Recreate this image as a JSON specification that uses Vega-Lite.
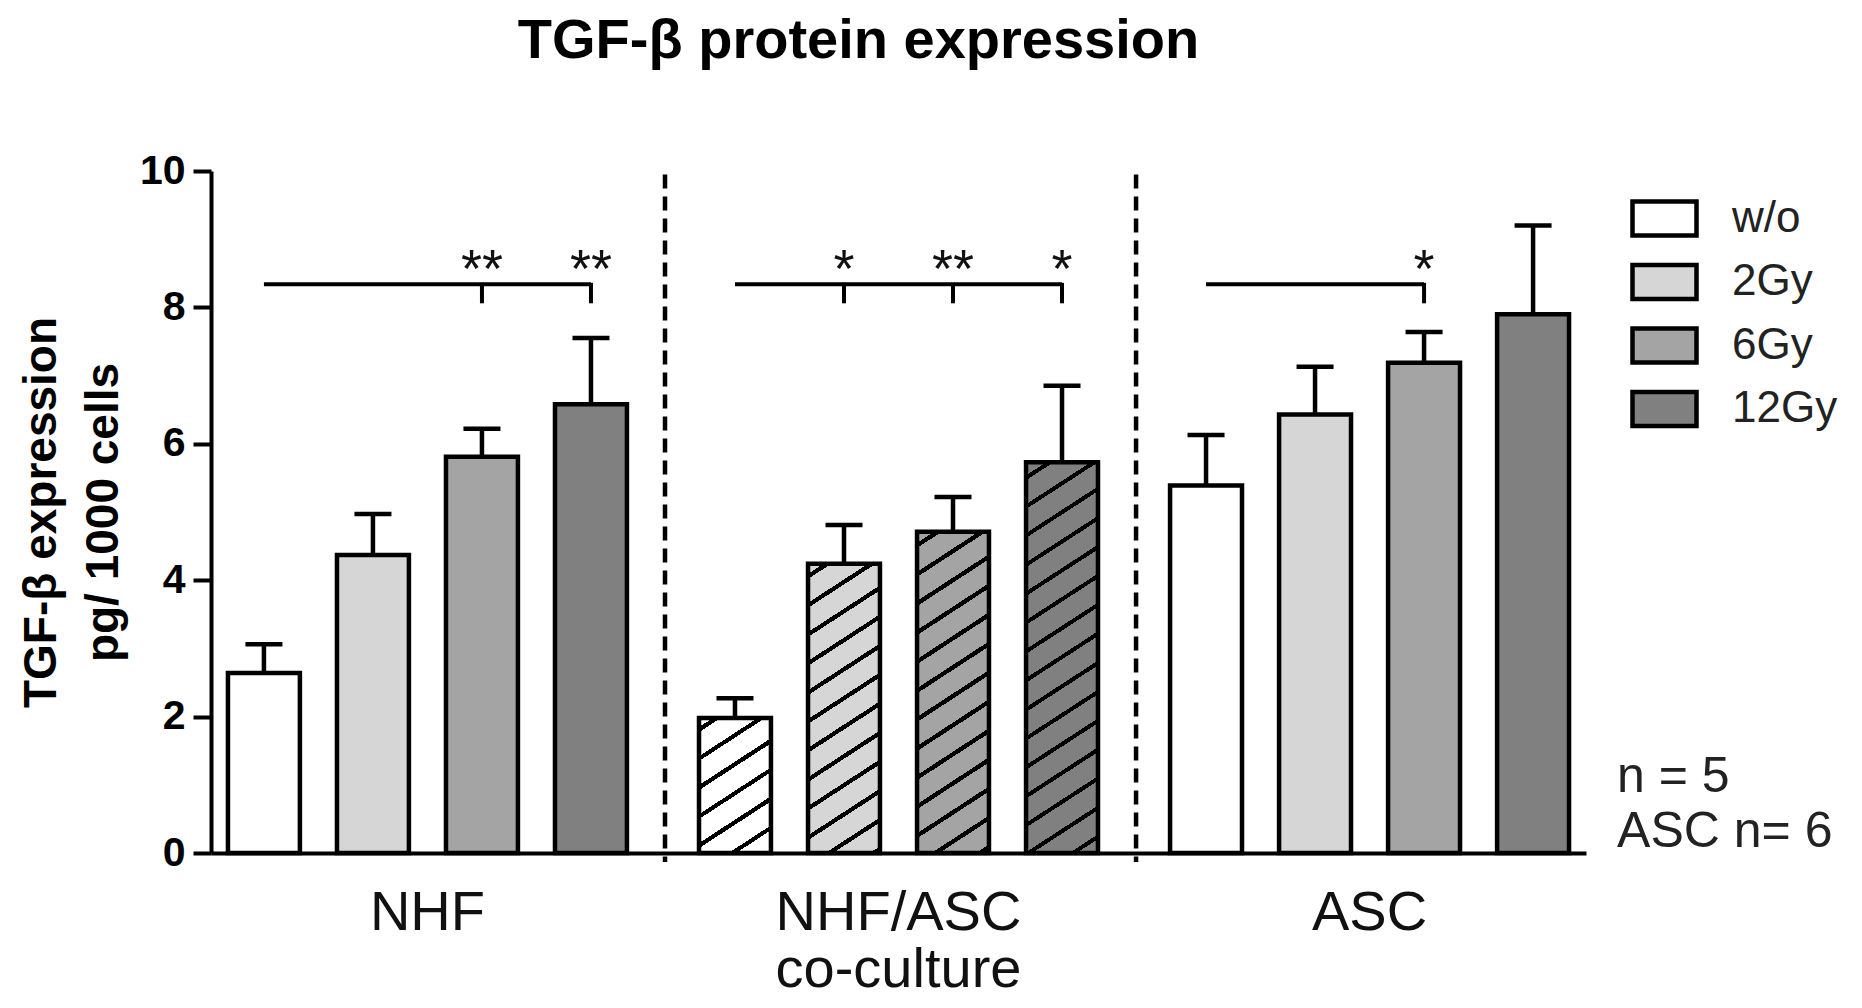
{
  "$schema": "https://vega.github.io/schema/vega-lite/v6.json",
  "autosize": {"type": "none"},
  "padding": {"left": 211, "top": 171, "right": 276, "bottom": 155},
  "width": 1375,
  "height": 682,
  "background": "white",
  "title": {"text": "TGF-β protein expression", "fontSize": 56, "fontWeight": "bold", "anchor": "middle", "frame": "group", "dx": -40, "offset": 80, "color": "black"},
  "datasets": {
    "bars": [
      {"group": "NHF", "dose": "w/o", "mean": 2.64, "upper": 3.06},
      {"group": "NHF", "dose": "2Gy", "mean": 4.37, "upper": 4.97},
      {"group": "NHF", "dose": "6Gy", "mean": 5.81, "upper": 6.22},
      {"group": "NHF", "dose": "12Gy", "mean": 6.58, "upper": 7.55},
      {"group": "NHF/ASC co-culture", "dose": "w/o", "mean": 1.98, "upper": 2.27},
      {"group": "NHF/ASC co-culture", "dose": "2Gy", "mean": 4.24, "upper": 4.81},
      {"group": "NHF/ASC co-culture", "dose": "6Gy", "mean": 4.71, "upper": 5.22},
      {"group": "NHF/ASC co-culture", "dose": "12Gy", "mean": 5.73, "upper": 6.85},
      {"group": "ASC", "dose": "w/o", "mean": 5.39, "upper": 6.13},
      {"group": "ASC", "dose": "2Gy", "mean": 6.43, "upper": 7.13},
      {"group": "ASC", "dose": "6Gy", "mean": 7.19, "upper": 7.64},
      {"group": "ASC", "dose": "12Gy", "mean": 7.9, "upper": 9.2}
    ],
    "brackets": [
      {"group": "NHF", "dose": "w/o"},
      {"group": "NHF", "dose": "12Gy"},
      {"group": "NHF/ASC co-culture", "dose": "w/o"},
      {"group": "NHF/ASC co-culture", "dose": "12Gy"},
      {"group": "ASC", "dose": "w/o"},
      {"group": "ASC", "dose": "6Gy"}
    ],
    "stars": [
      {"group": "NHF", "dose": "6Gy", "stars": "**"},
      {"group": "NHF", "dose": "12Gy", "stars": "**"},
      {"group": "NHF/ASC co-culture", "dose": "2Gy", "stars": "*"},
      {"group": "NHF/ASC co-culture", "dose": "6Gy", "stars": "**"},
      {"group": "NHF/ASC co-culture", "dose": "12Gy", "stars": "*"},
      {"group": "ASC", "dose": "6Gy", "stars": "*"}
    ],
    "dividers": [
      {"group": "NHF/ASC co-culture"},
      {"group": "ASC"}
    ],
    "notes": [
      {"group": "ASC", "note": ["n = 5", "ASC n= 6"]}
    ]
  },
  "data": {"name": "bars"},
  "layer": [
    {
      "data": {"name": "dividers"},
      "mark": {"type": "rule", "strokeDash": [14, 8], "strokeWidth": 4.5, "color": "black", "xOffset": -34, "y2Offset": 9},
      "encoding": {
        "x": {"field": "group", "type": "nominal", "sort": ["NHF", "NHF/ASC co-culture", "ASC"], "bandPosition": 0,
              "scale": {"paddingInner": 0.153, "paddingOuter": 0.036},
              "axis": {"title": null, "ticks": false, "tickSize": 0, "domainWidth": 4, "domainColor": "black", "labelAngle": 0,
                       "labelFontSize": 56, "labelFontWeight": "normal", "labelColor": "#111", "labelPadding": 32, "labelLineHeight": 57,
                       "labelLimit": 0, "labelExpr": "split(datum.label, ' ')"}},
        "y": {"datum": 9.95, "type": "quantitative"},
        "y2": {"datum": 0}
      }
    },
    {
      "mark": {"type": "bar", "stroke": "black", "strokeWidth": 4.5},
      "encoding": {
        "x": {"field": "group", "type": "nominal", "sort": ["NHF", "NHF/ASC co-culture", "ASC"]},
        "xOffset": {"field": "dose", "type": "nominal", "sort": ["w/o", "2Gy", "6Gy", "12Gy"], "scale": {"paddingInner": 0.34, "paddingOuter": 0}},
        "y": {"field": "mean", "type": "quantitative", "scale": {"domain": [0, 10], "nice": false},
              "axis": {"values": [0, 2, 4, 6, 8, 10], "format": "d", "grid": false, "title": ["TGF-β expression", "pg/ 1000 cells"],
                       "titleFontSize": 46, "titleFontWeight": "bold", "titleColor": "black", "titleLineHeight": 62, "titlePadding": 12,
                       "labelFontSize": 41, "labelFontWeight": "bold", "labelColor": "black", "labelPadding": 8,
                       "tickSize": 18, "tickWidth": 4, "tickColor": "black", "domainWidth": 4, "domainColor": "black"}},
        "color": {"field": "dose", "type": "nominal", "sort": ["w/o", "2Gy", "6Gy", "12Gy"],
                  "scale": {"domain": ["w/o", "2Gy", "6Gy", "12Gy"], "range": ["#ffffff", "#d6d6d6", "#a4a4a4", "#808080"]},
                  "legend": {"orient": "none", "legendX": 1419, "legendY": 13, "title": null, "padding": 0,
                             "symbolType": "M-1,-0.53L1,-0.53L1,0.53L-1,0.53Z", "symbolSize": 4096,
                             "symbolStrokeColor": "black", "symbolStrokeWidth": 4.5, "symbolOpacity": 1,
                             "labelFontSize": 44, "labelOffset": 33, "labelColor": "#222", "rowPadding": 2.5}}
      }
    },
    {
      "transform": [{"filter": "datum.group === 'NHF/ASC co-culture' && datum.dose === 'w/o'"}],
      "mark": {"type": "bar", "fill": {"gradient": "linear", "x1": 0, "y1": 0, "x2": 0.417, "y2": 1.202, "stops": [
        {"offset": 0, "color": "rgba(0,0,0,0)"},
        {"offset": 0.05, "color": "rgba(0,0,0,0)"}, {"offset": 0.05, "color": "#000"}, {"offset": 0.078, "color": "#000"}, {"offset": 0.078, "color": "rgba(0,0,0,0)"},
        {"offset": 0.21, "color": "rgba(0,0,0,0)"}, {"offset": 0.21, "color": "#000"}, {"offset": 0.237, "color": "#000"}, {"offset": 0.237, "color": "rgba(0,0,0,0)"},
        {"offset": 0.369, "color": "rgba(0,0,0,0)"}, {"offset": 0.369, "color": "#000"}, {"offset": 0.397, "color": "#000"}, {"offset": 0.397, "color": "rgba(0,0,0,0)"},
        {"offset": 0.529, "color": "rgba(0,0,0,0)"}, {"offset": 0.529, "color": "#000"}, {"offset": 0.556, "color": "#000"}, {"offset": 0.556, "color": "rgba(0,0,0,0)"},
        {"offset": 0.688, "color": "rgba(0,0,0,0)"}, {"offset": 0.688, "color": "#000"}, {"offset": 0.716, "color": "#000"}, {"offset": 0.716, "color": "rgba(0,0,0,0)"},
        {"offset": 0.848, "color": "rgba(0,0,0,0)"}, {"offset": 0.848, "color": "#000"}, {"offset": 0.875, "color": "#000"}, {"offset": 0.875, "color": "rgba(0,0,0,0)"},
        {"offset": 1, "color": "rgba(0,0,0,0)"}
      ]}},
      "encoding": {
        "x": {"field": "group", "type": "nominal", "sort": ["NHF", "NHF/ASC co-culture", "ASC"]},
        "xOffset": {"field": "dose", "type": "nominal", "sort": ["w/o", "2Gy", "6Gy", "12Gy"]},
        "y": {"field": "mean", "type": "quantitative"}
      }
    },
    {
      "transform": [{"filter": "datum.group === 'NHF/ASC co-culture' && datum.dose === '2Gy'"}],
      "mark": {"type": "bar", "fill": {"gradient": "linear", "x1": 0, "y1": 0, "x2": 0.183, "y2": 1.132, "stops": [
        {"offset": 0, "color": "rgba(0,0,0,0)"},
        {"offset": 0.03, "color": "rgba(0,0,0,0)"}, {"offset": 0.03, "color": "#000"}, {"offset": 0.045, "color": "#000"}, {"offset": 0.045, "color": "rgba(0,0,0,0)"},
        {"offset": 0.116, "color": "rgba(0,0,0,0)"}, {"offset": 0.116, "color": "#000"}, {"offset": 0.131, "color": "#000"}, {"offset": 0.131, "color": "rgba(0,0,0,0)"},
        {"offset": 0.203, "color": "rgba(0,0,0,0)"}, {"offset": 0.203, "color": "#000"}, {"offset": 0.218, "color": "#000"}, {"offset": 0.218, "color": "rgba(0,0,0,0)"},
        {"offset": 0.289, "color": "rgba(0,0,0,0)"}, {"offset": 0.289, "color": "#000"}, {"offset": 0.304, "color": "#000"}, {"offset": 0.304, "color": "rgba(0,0,0,0)"},
        {"offset": 0.376, "color": "rgba(0,0,0,0)"}, {"offset": 0.376, "color": "#000"}, {"offset": 0.391, "color": "#000"}, {"offset": 0.391, "color": "rgba(0,0,0,0)"},
        {"offset": 0.462, "color": "rgba(0,0,0,0)"}, {"offset": 0.462, "color": "#000"}, {"offset": 0.477, "color": "#000"}, {"offset": 0.477, "color": "rgba(0,0,0,0)"},
        {"offset": 0.548, "color": "rgba(0,0,0,0)"}, {"offset": 0.548, "color": "#000"}, {"offset": 0.563, "color": "#000"}, {"offset": 0.563, "color": "rgba(0,0,0,0)"},
        {"offset": 0.635, "color": "rgba(0,0,0,0)"}, {"offset": 0.635, "color": "#000"}, {"offset": 0.65, "color": "#000"}, {"offset": 0.65, "color": "rgba(0,0,0,0)"},
        {"offset": 0.721, "color": "rgba(0,0,0,0)"}, {"offset": 0.721, "color": "#000"}, {"offset": 0.736, "color": "#000"}, {"offset": 0.736, "color": "rgba(0,0,0,0)"},
        {"offset": 0.808, "color": "rgba(0,0,0,0)"}, {"offset": 0.808, "color": "#000"}, {"offset": 0.823, "color": "#000"}, {"offset": 0.823, "color": "rgba(0,0,0,0)"},
        {"offset": 0.894, "color": "rgba(0,0,0,0)"}, {"offset": 0.894, "color": "#000"}, {"offset": 0.909, "color": "#000"}, {"offset": 0.909, "color": "rgba(0,0,0,0)"},
        {"offset": 0.98, "color": "rgba(0,0,0,0)"}, {"offset": 0.98, "color": "#000"}, {"offset": 0.995, "color": "#000"}, {"offset": 0.995, "color": "rgba(0,0,0,0)"},
        {"offset": 1, "color": "rgba(0,0,0,0)"}
      ]}},
      "encoding": {
        "x": {"field": "group", "type": "nominal", "sort": ["NHF", "NHF/ASC co-culture", "ASC"]},
        "xOffset": {"field": "dose", "type": "nominal", "sort": ["w/o", "2Gy", "6Gy", "12Gy"]},
        "y": {"field": "mean", "type": "quantitative"}
      }
    },
    {
      "transform": [{"filter": "datum.group === 'NHF/ASC co-culture' && datum.dose === '6Gy'"}],
      "mark": {"type": "bar", "fill": {"gradient": "linear", "x1": 0, "y1": 0, "x2": 0.164, "y2": 1.122, "stops": [
        {"offset": 0, "color": "rgba(0,0,0,0)"},
        {"offset": 0.03, "color": "rgba(0,0,0,0)"}, {"offset": 0.03, "color": "#000"}, {"offset": 0.044, "color": "#000"}, {"offset": 0.044, "color": "rgba(0,0,0,0)"},
        {"offset": 0.109, "color": "rgba(0,0,0,0)"}, {"offset": 0.109, "color": "#000"}, {"offset": 0.123, "color": "#000"}, {"offset": 0.123, "color": "rgba(0,0,0,0)"},
        {"offset": 0.188, "color": "rgba(0,0,0,0)"}, {"offset": 0.188, "color": "#000"}, {"offset": 0.202, "color": "#000"}, {"offset": 0.202, "color": "rgba(0,0,0,0)"},
        {"offset": 0.267, "color": "rgba(0,0,0,0)"}, {"offset": 0.267, "color": "#000"}, {"offset": 0.281, "color": "#000"}, {"offset": 0.281, "color": "rgba(0,0,0,0)"},
        {"offset": 0.346, "color": "rgba(0,0,0,0)"}, {"offset": 0.346, "color": "#000"}, {"offset": 0.36, "color": "#000"}, {"offset": 0.36, "color": "rgba(0,0,0,0)"},
        {"offset": 0.425, "color": "rgba(0,0,0,0)"}, {"offset": 0.425, "color": "#000"}, {"offset": 0.439, "color": "#000"}, {"offset": 0.439, "color": "rgba(0,0,0,0)"},
        {"offset": 0.503, "color": "rgba(0,0,0,0)"}, {"offset": 0.503, "color": "#000"}, {"offset": 0.517, "color": "#000"}, {"offset": 0.517, "color": "rgba(0,0,0,0)"},
        {"offset": 0.582, "color": "rgba(0,0,0,0)"}, {"offset": 0.582, "color": "#000"}, {"offset": 0.596, "color": "#000"}, {"offset": 0.596, "color": "rgba(0,0,0,0)"},
        {"offset": 0.661, "color": "rgba(0,0,0,0)"}, {"offset": 0.661, "color": "#000"}, {"offset": 0.675, "color": "#000"}, {"offset": 0.675, "color": "rgba(0,0,0,0)"},
        {"offset": 0.74, "color": "rgba(0,0,0,0)"}, {"offset": 0.74, "color": "#000"}, {"offset": 0.754, "color": "#000"}, {"offset": 0.754, "color": "rgba(0,0,0,0)"},
        {"offset": 0.819, "color": "rgba(0,0,0,0)"}, {"offset": 0.819, "color": "#000"}, {"offset": 0.833, "color": "#000"}, {"offset": 0.833, "color": "rgba(0,0,0,0)"},
        {"offset": 0.898, "color": "rgba(0,0,0,0)"}, {"offset": 0.898, "color": "#000"}, {"offset": 0.912, "color": "#000"}, {"offset": 0.912, "color": "rgba(0,0,0,0)"},
        {"offset": 0.977, "color": "rgba(0,0,0,0)"}, {"offset": 0.977, "color": "#000"}, {"offset": 0.991, "color": "#000"}, {"offset": 0.991, "color": "rgba(0,0,0,0)"},
        {"offset": 1, "color": "rgba(0,0,0,0)"}
      ]}},
      "encoding": {
        "x": {"field": "group", "type": "nominal", "sort": ["NHF", "NHF/ASC co-culture", "ASC"]},
        "xOffset": {"field": "dose", "type": "nominal", "sort": ["w/o", "2Gy", "6Gy", "12Gy"]},
        "y": {"field": "mean", "type": "quantitative"}
      }
    },
    {
      "transform": [{"filter": "datum.group === 'NHF/ASC co-culture' && datum.dose === '12Gy'"}],
      "mark": {"type": "bar", "fill": {"gradient": "linear", "x1": 0, "y1": 0, "x2": 0.132, "y2": 1.104, "stops": [
        {"offset": 0, "color": "rgba(0,0,0,0)"},
        {"offset": 0.03, "color": "rgba(0,0,0,0)"}, {"offset": 0.03, "color": "#000"}, {"offset": 0.041, "color": "#000"}, {"offset": 0.041, "color": "rgba(0,0,0,0)"},
        {"offset": 0.096, "color": "rgba(0,0,0,0)"}, {"offset": 0.096, "color": "#000"}, {"offset": 0.107, "color": "#000"}, {"offset": 0.107, "color": "rgba(0,0,0,0)"},
        {"offset": 0.162, "color": "rgba(0,0,0,0)"}, {"offset": 0.162, "color": "#000"}, {"offset": 0.173, "color": "#000"}, {"offset": 0.173, "color": "rgba(0,0,0,0)"},
        {"offset": 0.229, "color": "rgba(0,0,0,0)"}, {"offset": 0.229, "color": "#000"}, {"offset": 0.24, "color": "#000"}, {"offset": 0.24, "color": "rgba(0,0,0,0)"},
        {"offset": 0.295, "color": "rgba(0,0,0,0)"}, {"offset": 0.295, "color": "#000"}, {"offset": 0.306, "color": "#000"}, {"offset": 0.306, "color": "rgba(0,0,0,0)"},
        {"offset": 0.361, "color": "rgba(0,0,0,0)"}, {"offset": 0.361, "color": "#000"}, {"offset": 0.372, "color": "#000"}, {"offset": 0.372, "color": "rgba(0,0,0,0)"},
        {"offset": 0.427, "color": "rgba(0,0,0,0)"}, {"offset": 0.427, "color": "#000"}, {"offset": 0.438, "color": "#000"}, {"offset": 0.438, "color": "rgba(0,0,0,0)"},
        {"offset": 0.493, "color": "rgba(0,0,0,0)"}, {"offset": 0.493, "color": "#000"}, {"offset": 0.504, "color": "#000"}, {"offset": 0.504, "color": "rgba(0,0,0,0)"},
        {"offset": 0.56, "color": "rgba(0,0,0,0)"}, {"offset": 0.56, "color": "#000"}, {"offset": 0.571, "color": "#000"}, {"offset": 0.571, "color": "rgba(0,0,0,0)"},
        {"offset": 0.626, "color": "rgba(0,0,0,0)"}, {"offset": 0.626, "color": "#000"}, {"offset": 0.637, "color": "#000"}, {"offset": 0.637, "color": "rgba(0,0,0,0)"},
        {"offset": 0.692, "color": "rgba(0,0,0,0)"}, {"offset": 0.692, "color": "#000"}, {"offset": 0.703, "color": "#000"}, {"offset": 0.703, "color": "rgba(0,0,0,0)"},
        {"offset": 0.758, "color": "rgba(0,0,0,0)"}, {"offset": 0.758, "color": "#000"}, {"offset": 0.769, "color": "#000"}, {"offset": 0.769, "color": "rgba(0,0,0,0)"},
        {"offset": 0.824, "color": "rgba(0,0,0,0)"}, {"offset": 0.824, "color": "#000"}, {"offset": 0.835, "color": "#000"}, {"offset": 0.835, "color": "rgba(0,0,0,0)"},
        {"offset": 0.891, "color": "rgba(0,0,0,0)"}, {"offset": 0.891, "color": "#000"}, {"offset": 0.902, "color": "#000"}, {"offset": 0.902, "color": "rgba(0,0,0,0)"},
        {"offset": 0.957, "color": "rgba(0,0,0,0)"}, {"offset": 0.957, "color": "#000"}, {"offset": 0.968, "color": "#000"}, {"offset": 0.968, "color": "rgba(0,0,0,0)"},
        {"offset": 1, "color": "rgba(0,0,0,0)"}
      ]}},
      "encoding": {
        "x": {"field": "group", "type": "nominal", "sort": ["NHF", "NHF/ASC co-culture", "ASC"]},
        "xOffset": {"field": "dose", "type": "nominal", "sort": ["w/o", "2Gy", "6Gy", "12Gy"]},
        "y": {"field": "mean", "type": "quantitative"}
      }
    },
    {
      "mark": {"type": "rule", "color": "black", "strokeWidth": 4.5},
      "encoding": {
        "x": {"field": "group", "type": "nominal", "sort": ["NHF", "NHF/ASC co-culture", "ASC"]},
        "xOffset": {"field": "dose", "type": "nominal", "sort": ["w/o", "2Gy", "6Gy", "12Gy"]},
        "y": {"field": "mean", "type": "quantitative"},
        "y2": {"field": "upper"}
      }
    },
    {
      "mark": {"type": "tick", "orient": "horizontal", "color": "black", "size": 37, "thickness": 4.5, "opacity": 1},
      "encoding": {
        "x": {"field": "group", "type": "nominal", "sort": ["NHF", "NHF/ASC co-culture", "ASC"]},
        "xOffset": {"field": "dose", "type": "nominal", "sort": ["w/o", "2Gy", "6Gy", "12Gy"]},
        "y": {"field": "upper", "type": "quantitative"}
      }
    },
    {
      "data": {"name": "brackets"},
      "mark": {"type": "line", "color": "black", "strokeWidth": 4},
      "encoding": {
        "x": {"field": "group", "type": "nominal", "sort": ["NHF", "NHF/ASC co-culture", "ASC"]},
        "xOffset": {"field": "dose", "type": "nominal", "sort": ["w/o", "2Gy", "6Gy", "12Gy"]},
        "y": {"datum": 8.34, "type": "quantitative"},
        "detail": {"field": "group", "type": "nominal"}
      }
    },
    {
      "data": {"name": "stars"},
      "mark": {"type": "rule", "color": "black", "strokeWidth": 4},
      "encoding": {
        "x": {"field": "group", "type": "nominal", "sort": ["NHF", "NHF/ASC co-culture", "ASC"]},
        "xOffset": {"field": "dose", "type": "nominal", "sort": ["w/o", "2Gy", "6Gy", "12Gy"]},
        "y": {"datum": 8.36, "type": "quantitative"},
        "y2": {"datum": 8.06}
      }
    },
    {
      "data": {"name": "stars"},
      "mark": {"type": "text", "fontSize": 54, "baseline": "alphabetic", "color": "#111"},
      "encoding": {
        "x": {"field": "group", "type": "nominal", "sort": ["NHF", "NHF/ASC co-culture", "ASC"]},
        "xOffset": {"field": "dose", "type": "nominal", "sort": ["w/o", "2Gy", "6Gy", "12Gy"]},
        "y": {"datum": 8.3, "type": "quantitative"},
        "text": {"field": "stars"}
      }
    },
    {
      "data": {"name": "notes"},
      "mark": {"type": "text", "fontSize": 50, "align": "left", "baseline": "alphabetic", "lineHeight": 55, "dx": 48, "color": "#222"},
      "encoding": {
        "x": {"field": "group", "type": "nominal", "sort": ["NHF", "NHF/ASC co-culture", "ASC"], "bandPosition": 1},
        "y": {"datum": 0.89, "type": "quantitative"},
        "text": {"field": "note"}
      }
    }
  ],
  "config": {
    "font": "Liberation Sans",
    "view": {"stroke": null}
  }
}
